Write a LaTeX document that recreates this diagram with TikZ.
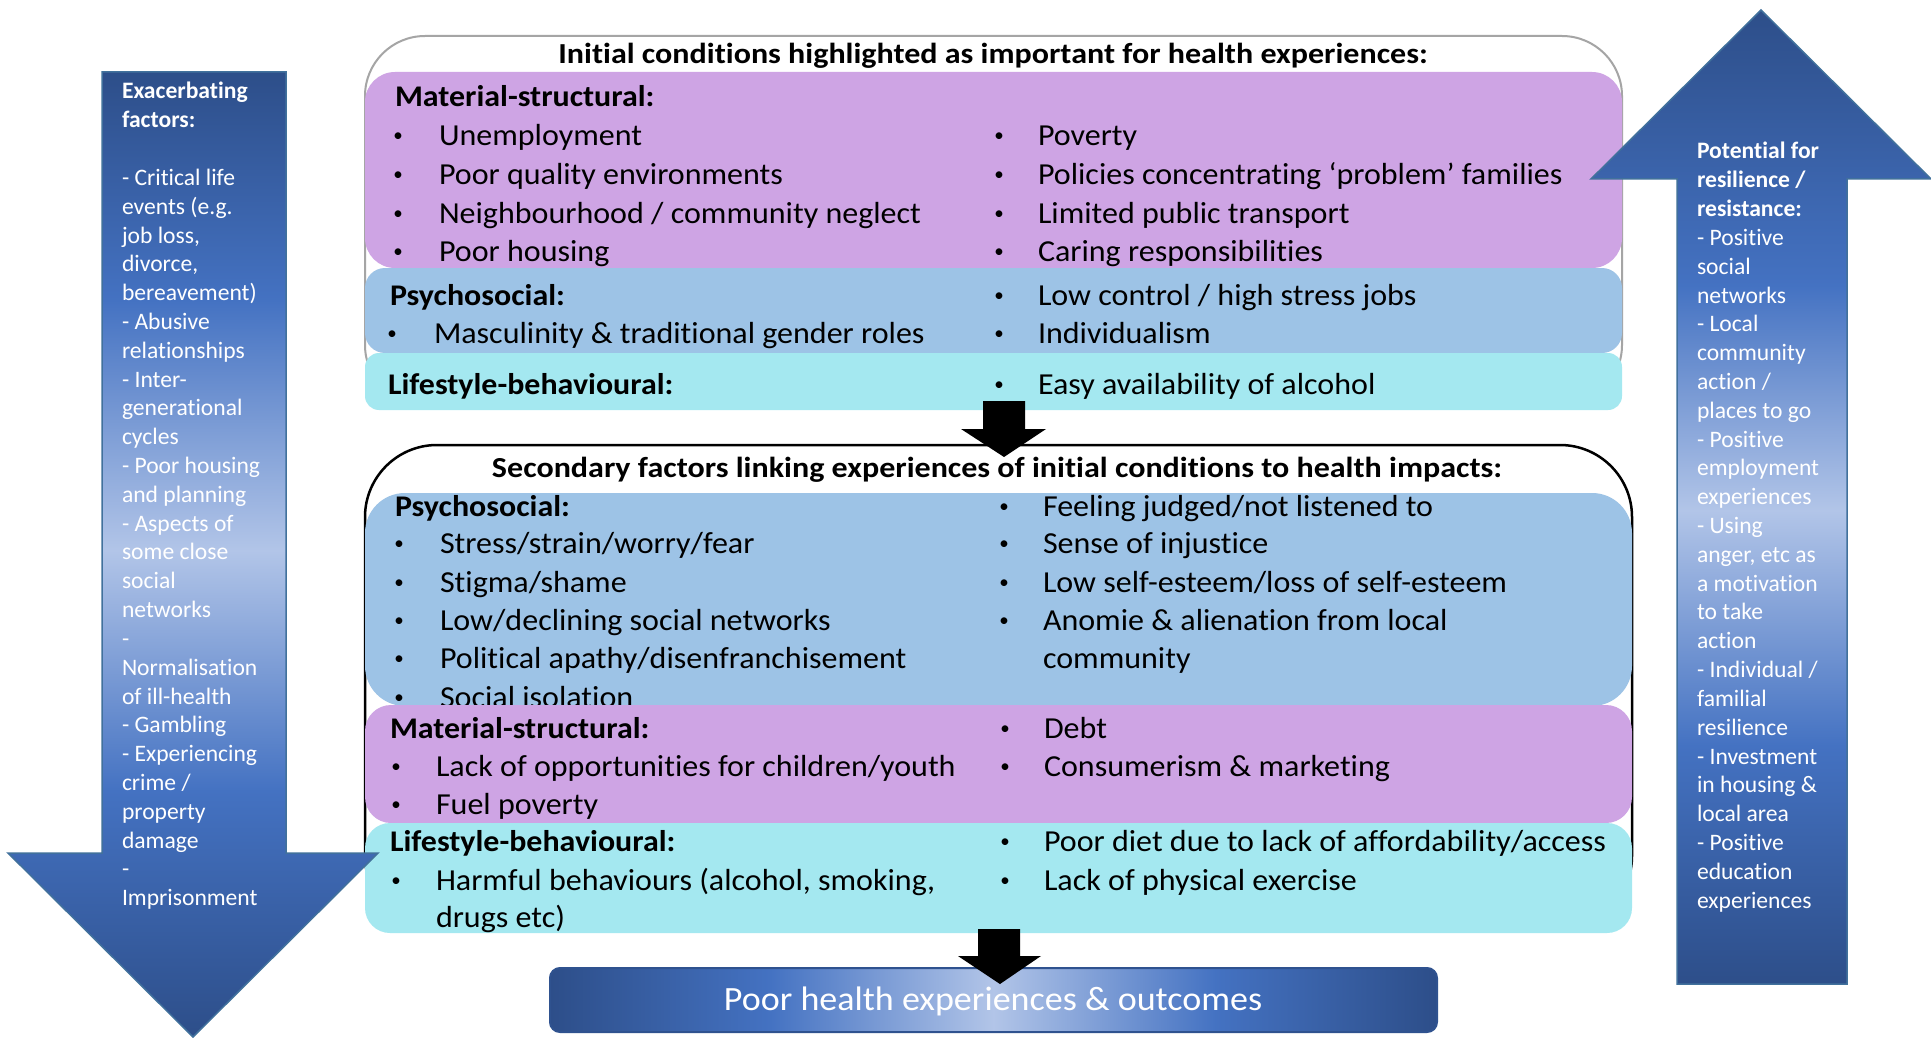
\documentclass[tikz,border=0pt]{standalone}
\usepackage{fontspec}
\usepackage{graphicx}
\setmainfont{Carlito}[Ligatures=NoCommon]
\definecolor{purp}{RGB}{206,164,228}
\definecolor{bluB}{RGB}{157,195,230}
\definecolor{cyanB}{RGB}{164,232,240}
\definecolor{arrDk}{RGB}{45,78,137}
\definecolor{arrMd}{RGB}{68,114,194}
\definecolor{arrLt}{RGB}{178,197,232}
\definecolor{arrEdge}{RGB}{65,113,156}
\definecolor{boxGrey}{RGB}{165,165,165}
\definecolor{resEdge}{RGB}{47,82,143}
\newcommand\wide[1]{\scalebox{1.05}[1]{#1}}
\newcommand\widehd[1]{\scalebox{1.065}[1]{#1}}
\newcommand\widett[1]{\scalebox{1.105}[1]{#1}}
\newcommand\bli[5]{\node[bul] (#1b) at (#2,{#4-4}) {\textbullet}; \node[body] (#1) at (#3,#4) {\wide{#5}};}
\begin{document}
\begin{tikzpicture}[x=1pt,y=-1pt,
  every node/.style={inner sep=0pt, outer sep=0pt},
  body/.style={anchor=base west, font=\fontsize{30.5}{37}\selectfont},
  bul/.style={anchor=base, font=\fontsize{19}{23}\selectfont},
  head/.style={anchor=base west, font=\bfseries\fontsize{30}{37}\selectfont},
  ttl/.style={anchor=base, font=\bfseries\fontsize{29}{35}\selectfont},
  side/.style={anchor=base west, text=white, font=\fontsize{23.6}{28.81}\selectfont},
  blackarrow/.style={fill=black}]
\useasboundingbox (0,0) rectangle (1931,1038);
\fill[white] (0,0) rectangle (1931,1038);

% ---------- top panel ----------
\draw[boxGrey, line width=2, fill=white, rounded corners=60] (365,36) rectangle (1622,405);
\node[ttl] (t1) at (993,64) {\widett{Initial conditions highlighted as important for health experiences:}};
\fill[purp, rounded corners=30] (365,72) rectangle (1622,268);
\fill[bluB, rounded corners=20] (365,268) rectangle (1622,353);
\fill[cyanB, rounded corners=14] (365,353) rectangle (1622,410);

\node[head] (ms1) at (395,107) {\widehd{Material-structural:}};
\bli{u1}{398}{439}{146}{Unemployment}
\bli{u2}{398}{439}{184}{Poor quality environments}
\bli{u3}{398}{439}{223}{Neighbourhood / community neglect}
\bli{u4}{398}{439}{261}{Poor housing}
\bli{v1}{999}{1038}{146}{Poverty}
\bli{v2}{999}{1038}{184}{Policies concentrating ‘problem’ families}
\bli{v3}{999}{1038}{223}{Limited public transport}
\bli{v4}{999}{1038}{261}{Caring responsibilities}
\node[head] (ps1) at (390,305) {\widehd{Psychosocial:}};
\bli{p1}{392}{434}{343}{Masculinity \& traditional gender roles}
\bli{q1}{999}{1038}{305}{Low control / high stress jobs}
\bli{q2}{999}{1038}{343}{Individualism}
\node[head] (lb1) at (388,394) {\widehd{Lifestyle-behavioural:}};
\bli{q3}{999}{1038}{394}{Easy availability of alcohol}

% ---------- second panel ----------
\draw[black, line width=2.5, fill=white, rounded corners=72] (365,445) rectangle (1632,928);
\node[ttl] (t2) at (997,477) {\widett{Secondary factors linking experiences of initial conditions to health impacts:}};
\fill[bluB, rounded corners=40] (365,493) rectangle (1632,706);
\node[head] (ps2) at (395,516) {\widehd{Psychosocial:}};
\bli{s1}{399}{440}{553}{Stress/strain/worry/fear}
\bli{s2}{399}{440}{592}{Stigma/shame}
\bli{s3}{399}{440}{630}{Low/declining social networks}
\bli{s4}{399}{440}{668}{Political apathy/disenfranchisement}
\bli{s5}{399}{440}{707}{Social isolation}
\bli{r1}{1004}{1043}{516}{Feeling judged/not listened to}
\bli{r2}{1004}{1043}{553}{Sense of injustice}
\bli{r3}{1004}{1043}{592}{Low self-esteem/loss of self-esteem}
\bli{r4}{1004}{1043}{630}{Anomie \& alienation from local}
\node[body] (r5) at (1043,668) {\wide{community}};

\fill[purp, rounded corners=26] (365,705) rectangle (1632,823);
\node[head] (ms2) at (390,738) {\widehd{Material-structural:}};
\bli{m1}{396}{436}{776}{Lack of opportunities for children/youth}
\bli{m2}{396}{436}{814}{Fuel poverty}
\bli{n1}{1005}{1044}{738}{Debt}
\bli{n2}{1005}{1044}{776}{Consumerism \& marketing}

\fill[cyanB, rounded corners=25] (365,823) rectangle (1632,933);
\node[head] (lb2) at (390,851) {\widehd{Lifestyle-behavioural:}};
\bli{h1}{396}{436}{890}{Harmful behaviours (alcohol, smoking,}
\node[body] (h2) at (436,927) {\wide{drugs etc)}};
\bli{k1}{1005}{1044}{851}{Poor diet due to lack of affordability/access}
\bli{k2}{1005}{1044}{890}{Lack of physical exercise}

% ---------- result box ----------
\begin{scope}
  \clip[rounded corners=10] (550,968) rectangle (1437,1032);
  \shade[left color=arrDk, right color=arrMd] (549,968) rectangle (771,1032);
  \shade[left color=arrMd, right color=arrLt] (770,968) rectangle (994,1032);
  \shade[left color=arrLt, right color=arrMd] (993,968) rectangle (1216,1032);
  \shade[left color=arrMd, right color=arrDk] (1215,968) rectangle (1438,1032);
\end{scope}
\draw[resEdge, line width=2, rounded corners=10] (550,968) rectangle (1437,1032);
\node[anchor=base, text=white, font=\fontsize{34}{40}\selectfont] (res) at (993,1010) {\scalebox{1.06}[1]{Poor health experiences \& outcomes}};

% ---------- black arrows ----------
\fill[blackarrow] (983,401) -- (1025,401) -- (1025,429) -- (1046,429) -- (1004,457) -- (961,429) -- (983,429) -- cycle;
\fill[blackarrow] (978,929) -- (1020,929) -- (1020,956) -- (1041,956) -- (1000,984) -- (958,956) -- (978,956) -- cycle;

% ---------- left arrow ----------
\begin{scope}
  \clip (102,72) -- (286,72) -- (286,853) -- (378,853) -- (193,1037) -- (8,853) -- (102,853) -- cycle;
  \shade[top color=arrDk, bottom color=arrMd] (0,70) rectangle (400,301);
  \shade[top color=arrMd, bottom color=arrLt] (0,300) rectangle (400,551);
  \shade[top color=arrLt, bottom color=arrMd] (0,550) rectangle (400,791);
  \shade[top color=arrMd, bottom color=arrDk] (0,790) rectangle (400,1038);
\end{scope}
\draw[arrEdge, line width=1.5] (102,72) -- (286,72) -- (286,853) -- (378,853) -- (193,1037) -- (8,853) -- (102,853) -- cycle;
\node[side] (exac) at (122,99) {\parbox[t]{190pt}{\raggedright
\textbf{Exacerbating}\\\textbf{factors:}\\\mbox{}\\- Critical life\\events (e.g.\\job loss,\\divorce,\\bereavement)\\- Abusive\\relationships\\- Inter-\\generational\\cycles\\- Poor housing\\and planning\\- Aspects of\\some close\\social\\networks\\-\\Normalisation\\of ill-health\\- Gambling\\- Experiencing\\crime /\\property\\damage\\-\\Imprisonment}};

% ---------- right arrow ----------
\begin{scope}
  \clip (1761,10) -- (1931,179) -- (1847,179) -- (1847,984) -- (1677,984) -- (1677,179) -- (1591,179) -- cycle;
  \shade[top color=arrDk, bottom color=arrMd] (1580,8) rectangle (1935,286);
  \shade[top color=arrMd, bottom color=arrLt] (1580,285) rectangle (1935,511);
  \shade[top color=arrLt, bottom color=arrMd] (1580,510) rectangle (1935,746);
  \shade[top color=arrMd, bottom color=arrDk] (1580,745) rectangle (1935,986);
\end{scope}
\draw[arrEdge, line width=1.5] (1761,10) -- (1931,179) -- (1847,179) -- (1847,984) -- (1677,984) -- (1677,179) -- (1591,179) -- cycle;
\node[side] (resil) at (1697,159) {\parbox[t]{150pt}{\raggedright
\textbf{Potential for}\\\textbf{resilience /}\\\textbf{resistance:}\\- Positive\\social\\networks\\- Local\\community\\action /\\places to go\\- Positive\\employment\\experiences\\- Using\\anger, etc as\\a motivation\\to take\\action\\- Individual /\\familial\\resilience\\- Investment\\in housing \&\\local area\\- Positive\\education\\experiences}};
\end{tikzpicture}
\end{document}
